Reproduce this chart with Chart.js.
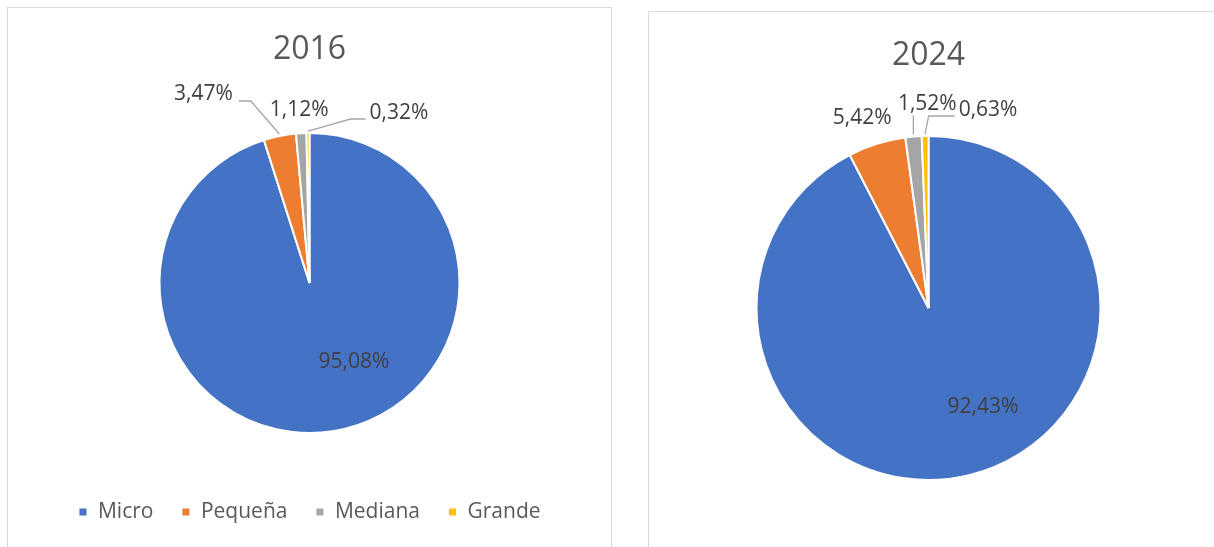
<!DOCTYPE html>
<html>
<head>
<meta charset="utf-8">
<script src="https://cdn.jsdelivr.net/npm/chart.js@4.4.1/dist/chart.umd.min.js"></script>
<style>
    html, body { margin: 0; padding: 0; background: #fff; overflow: hidden; }
    .panel { position: absolute; border: 1px solid #d9d9d9; background: #fff; }
    #panel-2016 { left: 7px; top: 7px; width: 603px; height: 560px; }
    #panel-2024 { left: 648px; top: 11px; width: 575px; height: 560px; }
    canvas { display: block; }
</style>
</head>
<body>
<div class="panel" id="panel-2016"><canvas id="chart-2016" width="603" height="540"></canvas></div>
<div class="panel" id="panel-2024"><canvas id="chart-2024" width="575" height="535"></canvas></div>
<script>
// Company size share (%), 2016 vs 2024
const categories = ['Micro', 'Pequeña', 'Mediana', 'Grande'];
const values2016 = [95.08, 3.47, 1.12, 0.32];
const values2024 = [92.43, 5.42, 1.52, 0.63];
const sliceColors = ['#4472C4', '#ED7D31', '#A5A5A5', '#FFC000'];

const FONT = "'Open Sans', 'DejaVu Sans', sans-serif";
Chart.defaults.font.family = FONT;

// label placement: inside labels sit at a fraction of the slice span,
// outside ones are nudged from the slice edge at its mid angle
const labels2016 = [
    { inside: true, t: 0.44, r: 0.605 },
    { dx: -76, dy: -40, leader: 'left', run: 12 },
    { dx: -2, dy: -21 },
    { dx: 91, dy: -18, leader: 'right', run: 15 }
];
const labels2024 = [
    { inside: true, t: 0.454, r: 0.655 },
    { dx: -14, dy: -24 },
    { dx: 14, dy: -31, leader: 'up' },
    { dx: 63, dy: -24, leader: 'right', run: 26 }
];

const formatPct = v => v.toFixed(2).replace('.', ',') + '%';

const pieLabels = {
    id: 'pieLabels',
    afterDatasetsDraw(chart, args, opts) {
        const ctx = chart.ctx;
        const meta = chart.getDatasetMeta(0);
        const data = chart.data.datasets[0].data;
        ctx.save();
        ctx.font = `21px ${FONT}`;
        ctx.textAlign = 'center';
        ctx.textBaseline = 'middle';
        meta.data.forEach((arc, i) => {
            const p = arc.getProps(['x', 'y', 'startAngle', 'endAngle', 'outerRadius'], true);
            const cfg = opts.layout[i];
            const text = formatPct(data[i]);
            const w = ctx.measureText(text).width;
            let cx, cy;
            if (cfg.inside) {
                const a = p.startAngle + (p.endAngle - p.startAngle) * cfg.t;
                cx = p.x + Math.cos(a) * p.outerRadius * cfg.r;
                cy = p.y + Math.sin(a) * p.outerRadius * cfg.r;
            } else {
                const mid = (p.startAngle + p.endAngle) / 2;
                const ex = p.x + Math.cos(mid) * (p.outerRadius + 2);
                const ey = p.y + Math.sin(mid) * (p.outerRadius + 2);
                cx = ex + cfg.dx;
                cy = ey + cfg.dy;
                if (cfg.leader) {
                    ctx.strokeStyle = '#A6A6A6';
                    ctx.lineWidth = 1.3;
                    ctx.beginPath();
                    ctx.moveTo(ex, ey);
                    if (cfg.leader === 'left') {
                        const endX = cx + w / 2 + 6;
                        ctx.lineTo(endX + cfg.run, cy + 7);
                        ctx.lineTo(endX, cy + 7);
                    } else if (cfg.leader === 'right') {
                        const endX = cx - w / 2 - 4;
                        ctx.lineTo(endX - cfg.run, cy + 6);
                        ctx.lineTo(endX, cy + 6);
                    } else if (cfg.leader === 'up') {
                        ctx.lineTo(ex, cy + 12);
                    }
                    ctx.stroke();
                }
            }
            ctx.fillStyle = '#404040';
            ctx.fillText(text, cx, cy);
        });
        ctx.restore();
    }
};

function makePie(canvasId, title, values, labelLayout, radius, extra) {
    return new Chart(document.getElementById(canvasId), {
        type: 'pie',
        data: {
            labels: categories,
            datasets: [{
                data: values,
                backgroundColor: sliceColors,
                borderColor: '#ffffff',
                borderWidth: 2,
                hoverOffset: 0,
                radius: radius
            }]
        },
        options: {
            responsive: false,
            animation: false,
            devicePixelRatio: 1,
            layout: { padding: extra.padding },
            plugins: {
                title: {
                    display: true,
                    text: title,
                    color: '#595959',
                    font: { size: 32, weight: 'normal' },
                    padding: extra.titlePadding
                },
                legend: extra.legend,
                tooltip: { enabled: false },
                pieLabels: { layout: labelLayout }
            }
        },
        plugins: [pieLabels]
    });
}

makePie('chart-2016', '2016', values2016, labels2016, 150, {
    padding: { top: 0, left: 0, right: 0, bottom: 15.5 },
    titlePadding: { top: 22.8, bottom: 23.3 },
    legend: {
        display: true,
        position: 'bottom',
        labels: {
            color: '#595959',
            font: { size: 21 },
            boxWidth: 9,
            boxHeight: 9,
            padding: 28
        }
    }
});

makePie('chart-2024', '2024', values2024, labels2024, 172, {
    padding: { top: 0, left: 0, right: 16, bottom: 26 },
    titlePadding: { top: 24.5, bottom: 20 },
    legend: { display: false }
});
</script>
</body>
</html>
